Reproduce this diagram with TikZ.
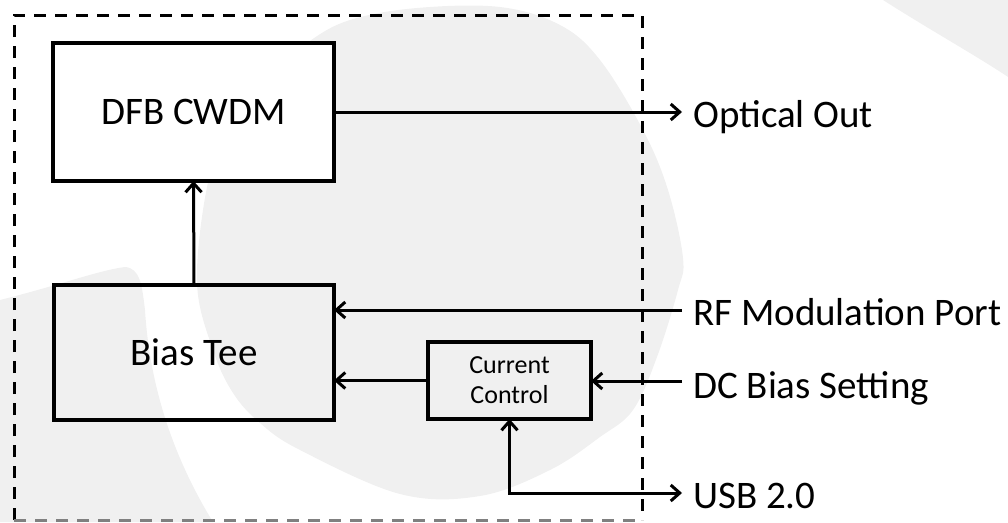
\documentclass[tikz,border=0pt]{standalone}
\usepackage{fontspec}
\setmainfont{Carlito}
\usetikzlibrary{arrows.meta}
\definecolor{wm}{HTML}{F0F0F0}
\begin{document}
\begin{tikzpicture}[x=1pt,y=-1pt,
  blk/.style={draw, line width=3.5pt, rectangle, inner sep=0pt, outer sep=0pt, font=\fontsize{39}{42}\selectfont},
  arr/.style={line width=3pt, -{Straight Barb[length=9pt,width=16pt]}},
  lab/.style={anchor=base west, inner sep=0pt, font=\fontsize{39}{42}\selectfont},
  frame/.style={line width=3pt, dash pattern=on 12pt off 9pt}]
\useasboundingbox (0,0) rectangle (1008,522);
% watermark
\fill[wm] plot[smooth cycle, tension=0.6] coordinates {(197,283) (207,187) (227,133) (260,83) (307,43) (350,20) (417,8) (500,7) (560,25) (600,60) (643,130) (668,190) (683,258) (678,290) (657,357) (633,410) (600,437) (550,470) (480,496) (400,494) (300,450) (260,423) (233,393) (213,350)};
\fill[wm] (0,300) .. controls (60,285) and (100,270) .. (125,267) .. controls (140,268) and (142,285) .. (145,310) .. controls (150,390) and (175,460) .. (213,522) -- (0,522) -- cycle;
\fill[wm] (883,0) -- (1008,0) -- (1008,77) .. controls (980,58) and (930,30) .. (883,0) -- cycle;
% frame
\draw[frame] (14,520) -- (14,15) -- (642,15) -- (642,520);
\draw[frame, gray] (14,520) -- (642,520);
% blocks
\node[blk, fill=white, minimum width=281pt, minimum height=138pt] (dfb) at (193.5,112) {\raisebox{-2pt}{DFB CWDM}};
\node[blk, minimum width=280pt, minimum height=135pt] (bias) at (194,352.5) {\raisebox{-3pt}{Bias Tee}};
\node[blk, minimum width=163pt, minimum height=77pt, align=center, font=\fontsize{26}{30}\selectfont] (cc) at (509.5,380.5) {Current\\Control};
% labels
\node[lab] (lo) at (693,127) {Optical Out};
\node[lab] (lrf) at (693,325) {RF Modulation Port};
\node[lab] (ldc) at (693,398) {DC Bias Setting};
\node[lab] (lusb) at (693,508) {USB 2.0};
\coordinate (oo) at (682,112);
\coordinate (rf) at (682,310);
\coordinate (dc) at (682,381);
\coordinate (usb) at (682,493);
% connectors
\draw[arr] (bias.north) -- (dfb.south);
\draw[arr] (dfb.east) -- (oo);
\draw[arr] (rf) -- (rf -| bias.east);
\draw[arr] (dc) -- (dc -| cc.east);
\draw[arr] (cc.west) -- (cc.west -| bias.east);
\draw[line width=3pt, {Straight Barb[length=9pt,width=16pt]}-{Straight Barb[length=9pt,width=16pt]}] (cc.south) -- (cc.south |- usb) -- (usb);
\end{tikzpicture}
\end{document}
